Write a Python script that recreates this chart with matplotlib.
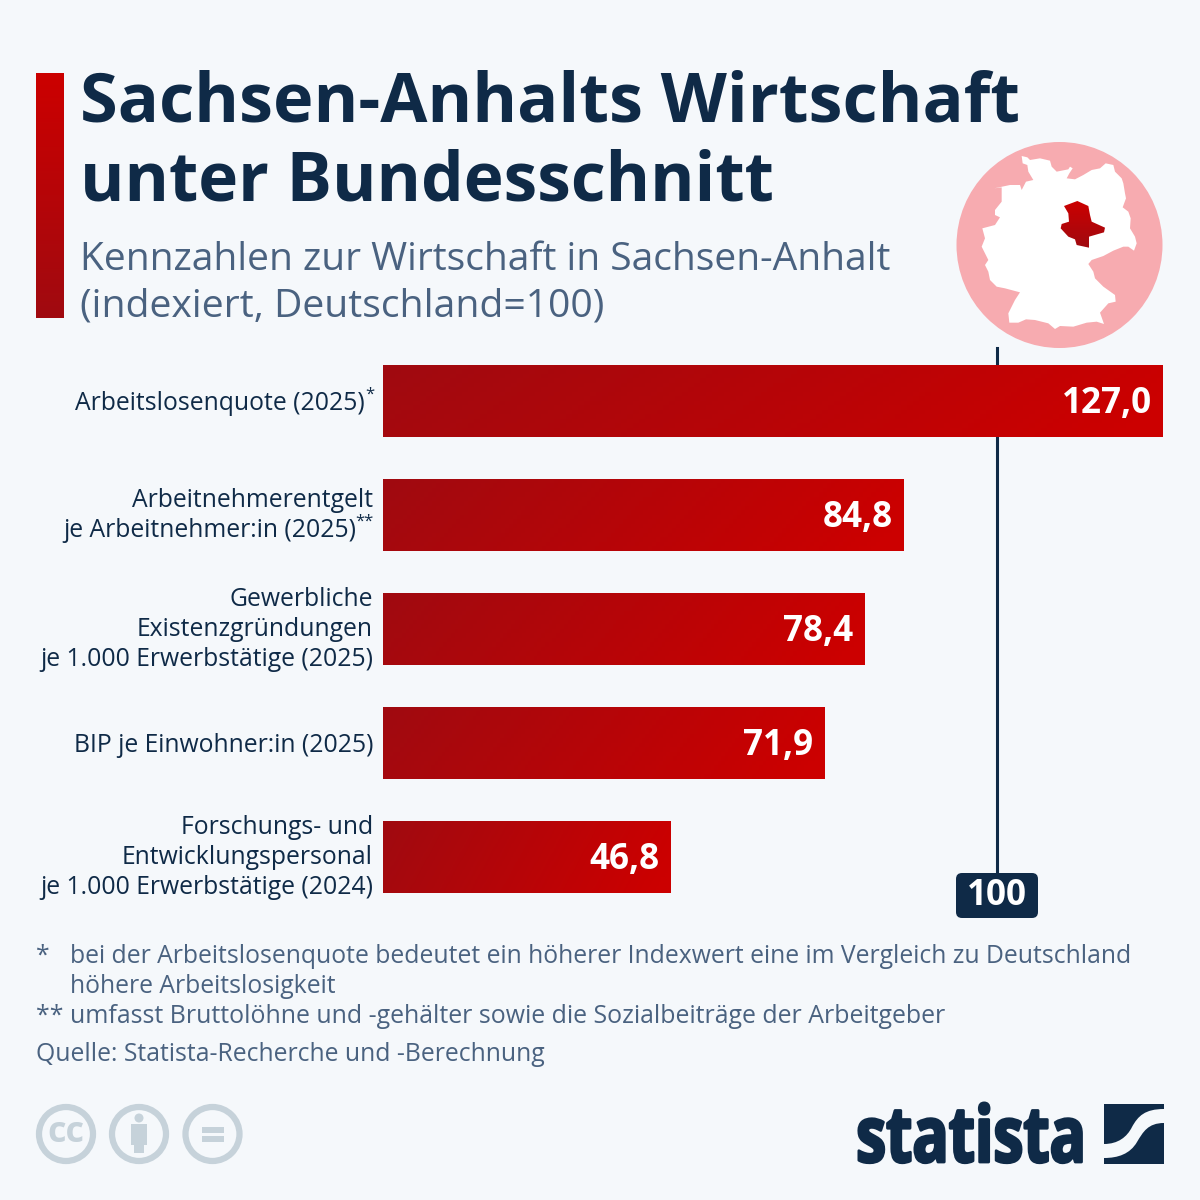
import numpy as np
import matplotlib
matplotlib.use('Agg')
import matplotlib.pyplot as plt
from matplotlib.colors import LinearSegmentedColormap
from matplotlib.patches import Circle, Polygon, Rectangle, PathPatch, FancyBboxPatch
from matplotlib.path import Path
from matplotlib.patheffects import AbstractPathEffect
from matplotlib.transforms import Affine2D

# Chart data
labels = [['Arbeitslosenquote (2025)'],
          ['Arbeitnehmerentgelt', 'je Arbeitnehmer:in (2025)'],
          ['Gewerbliche', 'Existenzgründungen', 'je 1.000 Erwerbstätige (2025)'],
          ['BIP je Einwohner:in (2025)'],
          ['Forschungs- und', 'Entwicklungspersonal', 'je 1.000 Erwerbstätige (2024)']]
markers = ['*', '**', '', '', '']
values = [127.0, 84.8, 78.4, 71.9, 46.8]
value_labels = ['127,0', '84,8', '78,4', '71,9', '46,8']
reference = 100

title = ['Sachsen-Anhalts Wirtschaft', 'unter Bundesschnitt']
subtitle = ['Kennzahlen zur Wirtschaft in Sachsen-Anhalt', '(indexiert, Deutschland=100)']

# Colours
navy = '#0f2a47'
slate = '#4a6280'
background = '#f5f8fb'
icon_grey = '#c6d2da'
reds = LinearSegmentedColormap.from_list('reds', ['#a00a10', '#cc0000'])

plt.rcParams['font.family'] = 'Open Sans'


# The logo lettering is condensed, no such font here so squeeze the glyph paths
class Squeeze(AbstractPathEffect):
    def __init__(self, scale, x0, stroke):
        super().__init__()
        self.scale = scale
        self.x0 = x0
        self.stroke = stroke

    def draw_path(self, renderer, gc, tpath, affine, rgbFace=None):
        squeeze = Affine2D().translate(-self.x0, 0).scale(self.scale, 1).translate(self.x0, 0)
        gc0 = renderer.new_gc()
        gc0.copy_properties(gc)
        gc0.set_linewidth(self.stroke)
        gc0.set_foreground(rgbFace)
        renderer.draw_path(gc0, tpath, affine + squeeze, rgbFace)
        gc0.restore()


fig = plt.figure(figsize=(12, 12), dpi=100, facecolor=background)

# Full figure axes in pixels for the title block, map and logos
page = fig.add_axes([0, 0, 1, 1])
page.set_xlim(0, 1200)
page.set_ylim(1200, 0)
page.axis('off')

# Title block
page.imshow(np.linspace(1, 0, 256).reshape(-1, 1), cmap=reds, vmin=0, vmax=1,
            extent=[36, 64, 318, 73], aspect='auto')
page.text(80, 104, title[0], fontsize=49.2, fontweight='bold', color=navy, va='center')
page.text(80, 182.5, title[1], fontsize=48.7, fontweight='bold', color=navy, va='center')
page.text(80, 260, subtitle[0], fontsize=28.1, color=slate, va='center')
page.text(80, 307, subtitle[1], fontsize=28.2, color=slate, va='center')

# Map of Germany
page.add_patch(Circle((1059.5, 245), 103, color='#f7abb0', lw=0))
germany = [(245, 78), (262, 82), (270, 90), (300, 85), (330, 92), (335, 110), (350, 125), (385, 118), (390, 110),
           (398, 115), (388, 130), (380, 145), (405, 148), (430, 135), (455, 120), (480, 115), (497, 100),
           (520, 105), (525, 125), (545, 145), (550, 160), (555, 190), (558, 205), (548, 232), (565, 245),
           (572, 265), (570, 295), (585, 320), (590, 340), (582, 362), (565, 350), (550, 350), (520, 362),
           (490, 378), (455, 390), (445, 402), (460, 425), (465, 445), (490, 470), (525, 495), (527, 515),
           (505, 520), (480, 548), (492, 582), (470, 575), (440, 578), (400, 590), (360, 588), (345, 597),
           (325, 580), (285, 570), (258, 568), (235, 578), (208, 578), (205, 550), (225, 510), (240, 487),
           (195, 475), (170, 470), (150, 450), (145, 425), (135, 405), (145, 390), (125, 350), (135, 325),
           (127, 295), (165, 285), (180, 262), (165, 255), (165, 240), (185, 215), (185, 172), (163, 175),
           (210, 165), (240, 165), (245, 180), (258, 155), (280, 150), (265, 125), (262, 105), (248, 100)]
saxony = [(372, 228), (412, 213), (445, 228), (450, 255), (455, 275), (495, 293), (492, 307), (447, 320),
          (447, 353), (410, 345), (405, 328), (385, 320), (362, 295), (365, 282), (387, 275), (385, 250)]


def zoomed(points):
    return [(940 + x / 3, 130 + y / 3) for x, y in points]


page.add_patch(Polygon(zoomed(germany), color='white', lw=0))
state = Polygon(zoomed(saxony), color='none', lw=0)
page.add_patch(state)
grad = page.imshow(np.linspace(1, 0, 64).reshape(-1, 1), cmap=reds, vmin=0, vmax=1,
                   extent=[1060, 1107, 248, 200], aspect='auto', zorder=3)
grad.set_clip_path(state)
page.set_xlim(0, 1200)
page.set_ylim(1200, 0)

# Footnotes
page.text(36, 956.5, '*', fontsize=17.85, color=slate, va='center')
page.text(70, 956.5, 'bei der Arbeitslosenquote bedeutet ein höherer Indexwert eine im Vergleich zu Deutschland',
          fontsize=17.85, color=slate, va='center')
page.text(70, 986.5, 'höhere Arbeitslosigkeit', fontsize=17.85, color=slate, va='center')
page.text(36, 1016.5, '** umfasst Bruttolöhne und -gehälter sowie die Sozialbeiträge der Arbeitgeber',
          fontsize=17.9, color=slate, va='center')
page.text(36, 1054.5, 'Quelle: Statista-Recherche und -Berechnung', fontsize=17.85, color=slate, va='center')

# Creative commons icons
for cx in [66, 139, 212.5]:
    page.add_patch(Circle((cx, 1134), 27, fc='none', ec=icon_grey, lw=4.5))
page.text(66, 1133, 'cc', fontsize=26, fontweight='bold', color=icon_grey, ha='center', va='center')
page.add_patch(Circle((139, 1118), 4.5, color=icon_grey, lw=0))
page.add_patch(Rectangle((131, 1124), 16, 21, color=icon_grey, lw=0))
page.add_patch(Rectangle((134, 1145), 9.5, 8, color=icon_grey, lw=0))
page.add_patch(Rectangle((201.5, 1127), 22, 5.5, color=icon_grey, lw=0))
page.add_patch(Rectangle((201.5, 1136), 22, 5.5, color=icon_grey, lw=0))

# Statista logo
logo = page.text(1086, 1162, 'statista', fontsize=56, fontweight='bold', color=navy, ha='right', va='baseline')
logo.set_path_effects([Squeeze(0.776, 1086, 2)])
upper = Path([(1104, 1104), (1164, 1104), (1164, 1109), (1145, 1109), (1138, 1116), (1132, 1127),
              (1127, 1137), (1118, 1144), (1104, 1144), (1104, 1104)],
             [Path.MOVETO, Path.LINETO, Path.LINETO, Path.CURVE4, Path.CURVE4, Path.CURVE4,
              Path.CURVE4, Path.CURVE4, Path.CURVE4, Path.CLOSEPOLY])
lower = Path([(1164, 1123), (1148, 1123), (1143, 1132), (1137, 1142), (1130, 1154), (1118, 1158),
              (1104, 1158), (1104, 1164), (1164, 1164), (1164, 1123)],
             [Path.MOVETO, Path.CURVE4, Path.CURVE4, Path.CURVE4, Path.CURVE4, Path.CURVE4,
              Path.CURVE4, Path.LINETO, Path.LINETO, Path.CLOSEPOLY])
page.add_patch(PathPatch(upper, fc=navy, lw=0))
page.add_patch(PathPatch(lower, fc=navy, lw=0))

# Bars, axes spans 383-1163 px horizontally and 344-914 px vertically
ax = fig.add_axes([383 / 1200, 1 - 914 / 1200, 780 / 1200, 570 / 1200])
ax.patch.set_alpha(0)
ax.axis('off')
y = np.arange(len(values))
ax.axvline(reference, ymin=(914 - 875) / 570, ymax=(914 - 348) / 570, color=navy, lw=2.2, zorder=1)
bars = ax.barh(y, values, height=72 / 114, color='none', zorder=2)

xx, yy = np.meshgrid(np.linspace(0, 1, 128), np.linspace(0, 1, 16))
gradient = np.clip(0.93 * xx + 0.12 * yy, 0, 1)
for bar in bars:
    bx, by, bw, bh = bar.get_x(), bar.get_y(), bar.get_width(), bar.get_height()
    im = ax.imshow(gradient, cmap=reds, vmin=0, vmax=1, aspect='auto', zorder=2,
                   extent=[bx, bx + bw, by + bh, by])
    im.set_clip_path(bar)
ax.set_xlim(0, 127)
ax.set_ylim(len(values) - 0.5, -0.5)

# Value labels and category labels, lines are placed one by one on their baseline
line_height = 30
for i, val in enumerate(values):
    ax.annotate(value_labels[i], xy=(val, i), xytext=(-11, 1), textcoords='offset pixels',
                ha='right', va='center_baseline', fontsize=25.2, fontweight='bold', color='white', zorder=3)
    lines = labels[i]
    baseline = -9 if len(lines) == 1 else -7
    first = -(len(lines) - 1) / 2 * line_height
    for j, line in enumerate(lines):
        right = -10
        line_y = -first - j * line_height + baseline
        if j == len(lines) - 1 and markers[i]:
            right = -10 - 8.5 * len(markers[i])
            ax.annotate(markers[i], xy=(0, i), xytext=(-9, line_y + 11), textcoords='offset pixels',
                        ha='right', va='baseline', fontsize=12, color=navy, annotation_clip=False)
        ax.annotate(line, xy=(0, i), xytext=(right, line_y), textcoords='offset pixels',
                    ha='right', va='baseline', fontsize=17.8, color=navy, annotation_clip=False)

# Reference tag
page.add_patch(FancyBboxPatch((960, 877), 74, 37, boxstyle='round,pad=4,rounding_size=6', fc=navy, lw=0, zorder=5))
ax.text(reference, (914 - 896) / 570, str(reference), transform=ax.get_xaxis_transform(), ha='center',
        va='center', fontsize=25.2, fontweight='bold', color='white', zorder=6, clip_on=False)

fig.savefig('out.png', dpi=100, facecolor=background)
